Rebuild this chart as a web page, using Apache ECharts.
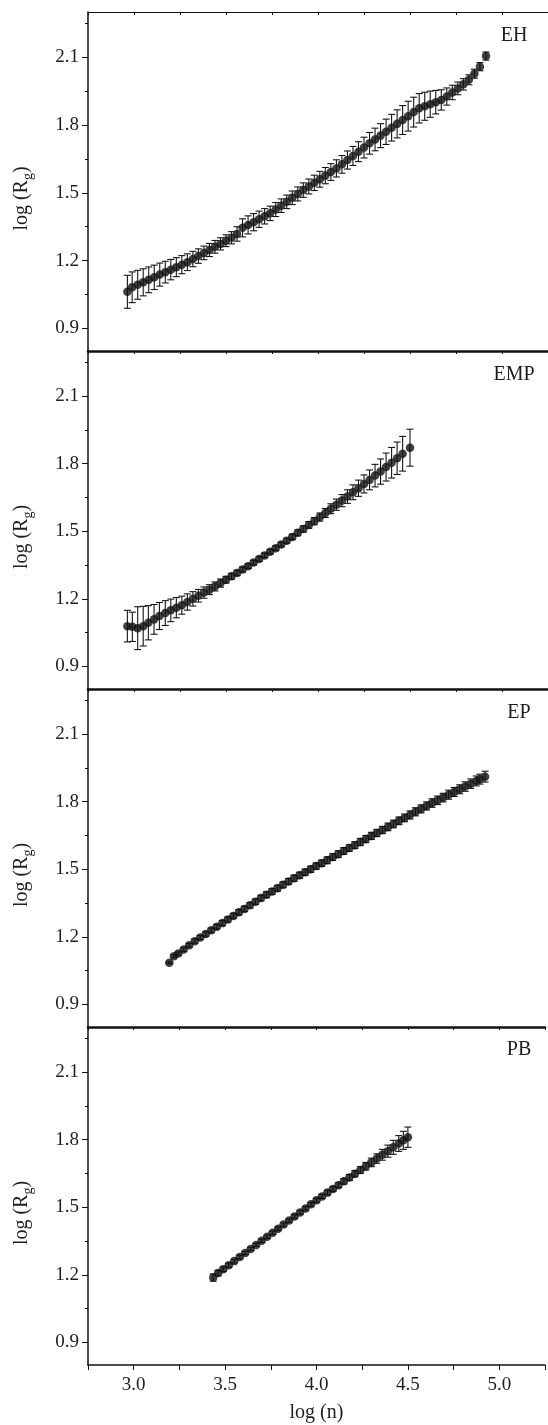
<!DOCTYPE html>
<html>
<head>
<meta charset="utf-8">
<script src="https://cdn.jsdelivr.net/npm/echarts@6/dist/echarts.min.js"></script>
<style>
  html, body { margin: 0; padding: 0; background: #fff; }
  #chart { width: 548px; height: 1425px; }
</style>
</head>
<body>
<div id="chart"></div>
<script>
// ---------- data ----------
const panelNames = ['EH', 'EMP', 'EP', 'PB'];
const yTickValues = [0.9, 1.2, 1.5, 1.8, 2.1];
const yMinorValues = [1.05, 1.35, 1.65, 1.95, 2.25];
const xTickLabels = [3.0, 3.5, 4.0, 4.5, 5.0];

const xEH = [2.964, 2.99, 3.02, 3.05, 3.08, 3.11, 3.14, 3.17, 3.20, 3.23, 3.26, 3.29, 3.32, 3.35, 3.38, 3.41, 3.44, 3.47, 3.50, 3.53, 3.56, 3.59, 3.62, 3.65, 3.68, 3.71, 3.74, 3.77, 3.80, 3.83, 3.86, 3.89, 3.92, 3.95, 3.98, 4.01, 4.04, 4.07, 4.10, 4.13, 4.16, 4.19, 4.22, 4.25, 4.28, 4.31, 4.34, 4.37, 4.40, 4.43, 4.46, 4.49, 4.52, 4.55, 4.58, 4.61, 4.64, 4.67, 4.70, 4.73, 4.76, 4.79, 4.82, 4.85, 4.88, 4.913];
const yEH = [1.062, 1.082, 1.093, 1.104, 1.115, 1.126, 1.138, 1.149, 1.160, 1.171, 1.182, 1.193, 1.207, 1.220, 1.234, 1.247, 1.261, 1.274, 1.288, 1.301, 1.318, 1.345, 1.358, 1.370, 1.383, 1.396, 1.409, 1.426, 1.443, 1.460, 1.478, 1.495, 1.512, 1.528, 1.544, 1.560, 1.576, 1.592, 1.608, 1.626, 1.645, 1.663, 1.682, 1.700, 1.719, 1.736, 1.753, 1.770, 1.788, 1.805, 1.822, 1.839, 1.857, 1.874, 1.883, 1.892, 1.901, 1.911, 1.926, 1.944, 1.962, 1.980, 2.000, 2.027, 2.058, 2.105];
const eEH = [0.073, 0.068, 0.064, 0.060, 0.057, 0.054, 0.051, 0.048, 0.045, 0.042, 0.040, 0.037, 0.034, 0.032, 0.030, 0.029, 0.028, 0.027, 0.026, 0.027, 0.032, 0.040, 0.040, 0.038, 0.036, 0.034, 0.032, 0.031, 0.030, 0.030, 0.030, 0.031, 0.032, 0.033, 0.034, 0.035, 0.036, 0.037, 0.038, 0.039, 0.040, 0.042, 0.044, 0.046, 0.048, 0.050, 0.053, 0.056, 0.059, 0.062, 0.064, 0.066, 0.066, 0.065, 0.062, 0.058, 0.052, 0.045, 0.038, 0.032, 0.028, 0.025, 0.022, 0.020, 0.018, 0.018];

const xEMP = [2.964, 2.991, 3.02, 3.05, 3.078, 3.109, 3.138, 3.17, 3.20, 3.23, 3.26, 3.29, 3.32, 3.35, 3.38, 3.41, 3.44, 3.47, 3.50, 3.53, 3.56, 3.59, 3.62, 3.65, 3.68, 3.71, 3.74, 3.77, 3.80, 3.83, 3.86, 3.89, 3.92, 3.95, 3.98, 4.01, 4.04, 4.07, 4.10, 4.13, 4.16, 4.19, 4.22, 4.25, 4.28, 4.31, 4.34, 4.37, 4.40, 4.43, 4.46, 4.50];
const yEMP = [1.079, 1.076, 1.070, 1.079, 1.094, 1.109, 1.124, 1.137, 1.149, 1.161, 1.172, 1.186, 1.200, 1.214, 1.228, 1.241, 1.255, 1.270, 1.285, 1.300, 1.315, 1.330, 1.345, 1.361, 1.377, 1.393, 1.409, 1.425, 1.441, 1.458, 1.475, 1.493, 1.510, 1.528, 1.545, 1.563, 1.581, 1.600, 1.618, 1.636, 1.654, 1.673, 1.691, 1.710, 1.728, 1.747, 1.765, 1.785, 1.804, 1.824, 1.844, 1.871];
const eEMP = [0.070, 0.065, 0.095, 0.088, 0.076, 0.066, 0.060, 0.055, 0.050, 0.045, 0.040, 0.036, 0.032, 0.028, 0.025, 0.022, 0.020, 0.018, 0.015, 0.013, 0.012, 0.011, 0.010, 0.010, 0.010, 0.010, 0.010, 0.010, 0.010, 0.011, 0.012, 0.013, 0.014, 0.015, 0.016, 0.018, 0.020, 0.022, 0.025, 0.027, 0.030, 0.033, 0.036, 0.040, 0.044, 0.050, 0.056, 0.062, 0.068, 0.072, 0.077, 0.082];

const xEP = [3.192, 3.217, 3.241, 3.27, 3.30, 3.33, 3.36, 3.39, 3.42, 3.45, 3.48, 3.51, 3.54, 3.57, 3.60, 3.63, 3.66, 3.69, 3.72, 3.75, 3.78, 3.81, 3.84, 3.87, 3.90, 3.93, 3.96, 3.99, 4.02, 4.05, 4.08, 4.11, 4.14, 4.17, 4.20, 4.23, 4.26, 4.29, 4.32, 4.35, 4.38, 4.41, 4.44, 4.47, 4.50, 4.53, 4.56, 4.59, 4.62, 4.65, 4.68, 4.71, 4.74, 4.77, 4.80, 4.83, 4.86, 4.88, 4.908];
const yEP = [1.085, 1.114, 1.126, 1.144, 1.163, 1.181, 1.197, 1.213, 1.229, 1.245, 1.261, 1.277, 1.293, 1.309, 1.324, 1.340, 1.356, 1.372, 1.387, 1.401, 1.416, 1.431, 1.446, 1.460, 1.473, 1.487, 1.500, 1.514, 1.527, 1.540, 1.554, 1.567, 1.581, 1.594, 1.607, 1.621, 1.634, 1.648, 1.661, 1.674, 1.688, 1.701, 1.715, 1.728, 1.741, 1.755, 1.768, 1.781, 1.794, 1.806, 1.818, 1.831, 1.843, 1.855, 1.867, 1.880, 1.892, 1.900, 1.911];
const eEP = [0.004, 0.006, 0.007, 0.008, 0.008, 0.009, 0.009, 0.010, 0.010, 0.010, 0.011, 0.011, 0.011, 0.012, 0.012, 0.012, 0.012, 0.013, 0.013, 0.013, 0.013, 0.013, 0.013, 0.014, 0.014, 0.014, 0.014, 0.014, 0.014, 0.015, 0.015, 0.015, 0.015, 0.015, 0.015, 0.016, 0.016, 0.016, 0.016, 0.016, 0.017, 0.017, 0.017, 0.017, 0.018, 0.018, 0.018, 0.018, 0.019, 0.019, 0.019, 0.020, 0.020, 0.020, 0.021, 0.021, 0.022, 0.022, 0.024];

const xPB = [3.435, 3.462, 3.49, 3.52, 3.55, 3.58, 3.61, 3.64, 3.67, 3.70, 3.73, 3.76, 3.79, 3.82, 3.85, 3.88, 3.91, 3.94, 3.97, 4.00, 4.03, 4.06, 4.09, 4.12, 4.15, 4.18, 4.21, 4.24, 4.27, 4.30, 4.33, 4.36, 4.39, 4.42, 4.45, 4.475, 4.50];
const yPB = [1.188, 1.208, 1.225, 1.243, 1.261, 1.279, 1.297, 1.315, 1.333, 1.351, 1.369, 1.387, 1.405, 1.423, 1.441, 1.459, 1.477, 1.495, 1.513, 1.531, 1.548, 1.565, 1.581, 1.598, 1.615, 1.632, 1.649, 1.665, 1.682, 1.699, 1.716, 1.733, 1.749, 1.766, 1.783, 1.797, 1.811];
const ePB = [0.016, 0.012, 0.010, 0.009, 0.008, 0.008, 0.007, 0.007, 0.007, 0.007, 0.007, 0.007, 0.007, 0.007, 0.007, 0.008, 0.008, 0.008, 0.008, 0.009, 0.009, 0.010, 0.010, 0.011, 0.012, 0.013, 0.014, 0.015, 0.017, 0.019, 0.021, 0.024, 0.027, 0.031, 0.035, 0.040, 0.045];

// ---------- layout ----------
const FONT = '"Liberation Serif", "Times New Roman", serif';
const INK = '#111';
const TXT = '#1e1e1e';
const panelX = [xEH, xEMP, xEP, xPB];
const panelY = [yEH, yEMP, yEP, yPB];
const panelE = [eEH, eEMP, eEP, ePB];
const tops = [12, 351, 689, 1027];
const heights = [339, 338, 338, 338];
const labelPos = [[514, 36], [514, 375], [519, 713], [519, 1050]];

const chart = echarts.init(document.getElementById('chart'), null, { renderer: 'canvas' });

function errRender(params, api) {
  const x = api.value(0), y = api.value(1), e = api.value(2);
  const t = api.coord([x, y + e]);
  const b = api.coord([x, y - e]);
  const hw = 3.5;
  const st = { stroke: '#151515', lineWidth: 1.1 };
  return {
    type: 'group',
    children: [
      { type: 'line', shape: { x1: t[0], y1: t[1], x2: b[0], y2: b[1] }, style: st },
      { type: 'line', shape: { x1: t[0] - hw, y1: t[1], x2: t[0] + hw, y2: t[1] }, style: st },
      { type: 'line', shape: { x1: b[0] - hw, y1: b[1], x2: b[0] + hw, y2: b[1] }, style: st }
    ]
  };
}

const grids = [], xAxes = [], yAxes = [], series = [], graphics = [];
for (let i = 0; i < 4; i++) {
  grids.push({ left: 88, right: 0, top: tops[i], height: heights[i] });
  xAxes.push({
    gridIndex: i, type: 'value', position: 'top', min: 2.75, max: 5.25, interval: 0.25,
    axisLine: { show: true, lineStyle: { color: INK, width: i === 0 ? 1 : 2.5 } },
    axisTick: { show: true, inside: true, length: 3, lineStyle: { color: INK, width: 1 } },
    axisLabel: { show: false }, splitLine: { show: false }
  });
  yAxes.push({
    gridIndex: i, type: 'value', position: 'left', min: 0.8, max: 2.3,
    axisLine: { show: true, lineStyle: { color: INK, width: 1.5 } },
    axisTick: { show: true, customValues: yTickValues, length: 6, lineStyle: { color: INK, width: 1 } },
    axisLabel: {
      show: true, customValues: yTickValues, margin: 9,
      formatter: v => v.toFixed(1),
      fontFamily: FONT, fontSize: 19, color: TXT
    },
    splitLine: { show: false },
    name: '{a|log (R}{s|g}{a|)}',
    nameLocation: 'middle', nameRotate: 90, nameGap: 53,
    nameTextStyle: {
      fontFamily: FONT, fontSize: 20, color: TXT, padding: [0, 34, 0, 0],
      rich: {
        a: { fontFamily: FONT, fontSize: 20, color: TXT, lineHeight: 27, verticalAlign: 'middle' },
        s: { fontFamily: FONT, fontSize: 14, color: TXT, lineHeight: 14, verticalAlign: 'bottom' }
      }
    }
  });
  yAxes.push({
    gridIndex: i, type: 'value', position: 'left', min: 0.8, max: 2.3,
    axisLine: { show: false },
    axisTick: { show: true, customValues: yMinorValues, length: 3, lineStyle: { color: INK, width: 1 } },
    axisLabel: { show: false }, splitLine: { show: false }
  });
  const xs = panelX[i], ys = panelY[i], es = panelE[i];
  series.push({
    type: 'custom', xAxisIndex: i, yAxisIndex: 2 * i,
    data: xs.map((v, k) => [v, ys[k], es[k]]),
    encode: { x: 0, y: 1 },
    renderItem: errRender, silent: true, z: 2
  });
  series.push({
    type: 'scatter', xAxisIndex: i, yAxisIndex: 2 * i,
    data: xs.map((v, k) => [v, ys[k]]),
    symbol: 'circle', symbolSize: 8.5,
    itemStyle: { color: '#101010' }, silent: true, z: 3
  });
  graphics.push({
    type: 'text', x: labelPos[i][0], y: labelPos[i][1],
    style: {
      text: panelNames[i], font: '20px ' + FONT, fill: TXT,
      align: 'center', verticalAlign: 'middle', textAlign: 'center', textVerticalAlign: 'middle'
    }
  });
}
// bottom labelled x axis
xAxes.push({
  gridIndex: 3, type: 'value', position: 'bottom', min: 2.75, max: 5.25, interval: 0.25,
  axisLine: { show: true, lineStyle: { color: INK, width: 1.5 } },
  axisTick: { show: true, inside: false, length: 5, lineStyle: { color: INK, width: 1 } },
  axisLabel: {
    show: true, margin: 11, fontFamily: FONT, fontSize: 19, color: TXT,
    formatter: v => {
      const hit = xTickLabels.find(t => Math.abs(t - v) < 1e-6);
      return hit === undefined ? '' : hit.toFixed(1);
    }
  },
  splitLine: { show: false },
  name: 'log (n)', nameLocation: 'middle', nameGap: 38,
  nameTextStyle: { fontFamily: FONT, fontSize: 20, color: TXT }
});

chart.setOption({
  animation: false,
  backgroundColor: '#fff',
  grid: grids,
  xAxis: xAxes,
  yAxis: yAxes,
  series: series,
  graphic: { elements: graphics }
});
</script>
</body>
</html>
